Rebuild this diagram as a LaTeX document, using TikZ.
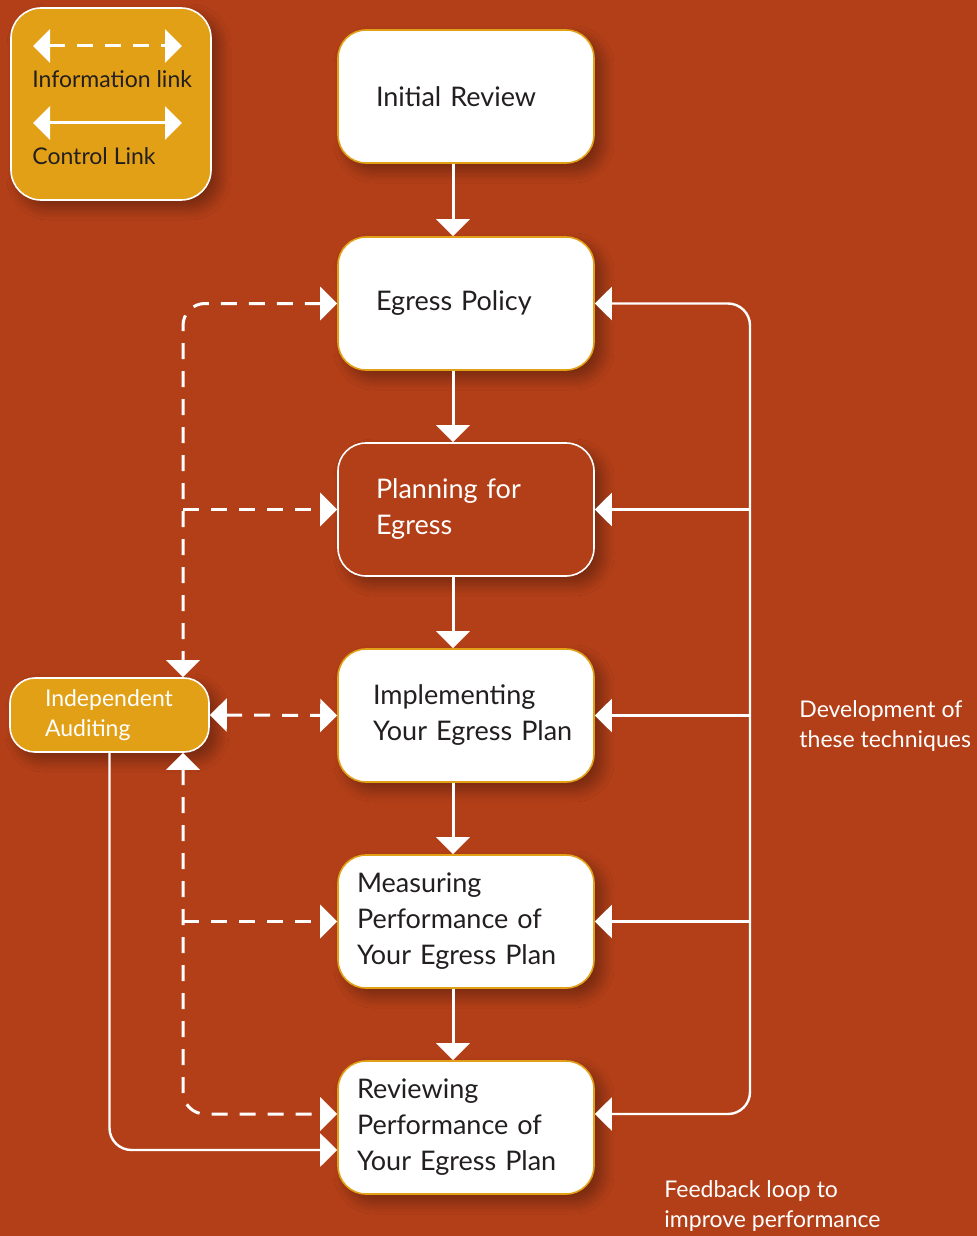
\documentclass[tikz,border=0pt]{standalone}
\usepackage{fontspec}
\setmainfont{Lato}
\usetikzlibrary{positioning, shapes, calc, shadows.blur, arrows.meta}
\definecolor{rust}{RGB}{179,63,24}
\definecolor{amber}{RGB}{226,160,22}
\definecolor{ink}{RGB}{35,31,32}
\tikzset{%
  shade/.style    = {blur shadow = {shadow xshift = 4pt, shadow yshift = -4pt,
    shadow blur radius = 6pt, shadow blur steps = 10, shadow opacity = 35}},
  stage/.style    = {draw = amber, thick, fill = white, text = ink, rectangle,
    rounded corners = 14pt, minimum width = 128pt, minimum height = 66.5pt,
    align = left, font = \fontsize{13.5}{18}\selectfont, shade},
  hollow/.style   = {stage, draw = white, fill = rust, text = white}, % Open stage
  legend/.style   = {draw = white, thick, fill = amber, rectangle, rounded corners = 15pt,
    minimum width = 100pt, minimum height = 96pt, shade},
  audit/.style    = {draw = white, thick, fill = amber, text = white, rectangle,
    rounded corners = 12.5pt, minimum width = 99.5pt, minimum height = 37pt,
    align = left, inner xsep = 17.5pt, text width = 64.5pt,
    font = \fontsize{11.5}{15}\selectfont, shade},
  key/.style      = {text = ink, anchor = west, inner sep = 0pt,
    font = \fontsize{11.5}{14}\selectfont},
  note/.style     = {text = white, anchor = west, align = left, inner sep = 0pt,
    font = \fontsize{11.5}{15}\selectfont},
  ctrl/.style     = {draw = white, line width = 1.2pt}, % Control link
  info/.style     = {draw = white, line width = 1.5pt, dash pattern = on 8pt off 6pt}, % Information link
  tip/.style      = {-{Triangle[length = 8.5pt, width = 16.5pt]}},
  tips/.style     = {{Triangle[length = 8.5pt, width = 16.5pt]}-{Triangle[length = 8.5pt, width = 16.5pt]}}
}

\begin{document}
\begin{tikzpicture}[x = 0.5pt, y = -0.5pt]
\fill[rust] (0,0) rectangle (977,1236);
\useasboundingbox (0,0) rectangle (977,1236);
%blocks
\draw
	(111,104) node [legend] (key) {}
	(466,96.5) node [stage, inner xsep = 19pt, text width = 90pt] (init) {Initial Review}
	(466,303.5) node [stage, inner xsep = 19pt, text width = 90pt] (policy) {Egress Policy}
	(466,509.5) node [hollow, inner xsep = 19pt, text width = 90pt] (plan) {Planning for\\Egress}
	(466,715.5) node [stage, inner xsep = 17.5pt, text width = 93pt] (impl) {Implementing\\Your~Egress~Plan}
	(466,921.5) node [stage, inner xsep = 9.5pt, text width = 109pt] (meas) {Measuring\\Performance of\\Your Egress Plan}
	(466,1127.5) node [stage, inner xsep = 9.5pt, text width = 109pt] (review) {Reviewing\\Performance of\\Your Egress Plan}
	(109.5,715) node [audit] (audit) {Independent\\Auditing};
%legend
\coordinate (i1) at (33,46);
\coordinate (i2) at (182,46);
\coordinate (c1) at (33,123);
\coordinate (c2) at (182,123);
\draw[info, tips] (i1) -- (i2);
\draw[ctrl, line width = 1.5pt, tips] (c1) -- (c2);
\node[key] (infotext) at (32,79) {Information link};
\node[key] (ctrltext) at (32,156) {Control Link};
%main chain
\draw[ctrl, line width = 1.5pt, tip] ([xshift = -6.5pt]init.south) -- ([xshift = -6.5pt]policy.north);
\draw[ctrl, line width = 1.5pt, tip] ([xshift = -6.5pt]policy.south) -- ([xshift = -6.5pt]plan.north);
\draw[ctrl, line width = 1.5pt, tip] ([xshift = -6.5pt]plan.south) -- ([xshift = -6.5pt]impl.north);
\draw[ctrl, line width = 1.5pt, tip] ([xshift = -6.5pt]impl.south) -- ([xshift = -6.5pt]meas.north);
\draw[ctrl, line width = 1.5pt, tip] ([xshift = -6.5pt]meas.south) -- ([xshift = -6.5pt]review.north);
%feedback rail
\coordinate (rail) at (750,0);
\draw[ctrl, tips, rounded corners = 11pt] (policy.east) -- (rail |- policy.east)
	-- (rail |- review.north) |- ([yshift = 6.75pt]review.east);
\draw[ctrl, tip] (rail |- plan.east) -- (plan.east);
\draw[ctrl, tip] (rail |- impl.east) -- (impl.east);
\draw[ctrl, tip] (rail |- meas.east) -- (meas.east);
%auditing links
\coordinate (spine) at (183,0);
\draw[info, tips, rounded corners = 11pt] (policy.west) -- (spine |- policy.west) -- (spine |- audit.north);
\draw[info, tip] (spine |- plan.west) -- (plan.west);
\draw[info, tips] (audit.east) -- (impl.west);
\draw[info, tip] (spine |- meas.west) -- (meas.west);
\draw[info, tips, rounded corners = 11pt] (spine |- audit.south) |- ([yshift = 6.75pt]review.west);
\draw[ctrl, tip, rounded corners = 11pt] (audit.south) |- ([yshift = -11.25pt]review.west);
%labels
\node[note] (devnote) at (799,726) {Development of\\these techniques};
\node[note] (loopnote) at (664,1206) {Feedback loop to\\improve performance};
\end{tikzpicture}
\end{document}
